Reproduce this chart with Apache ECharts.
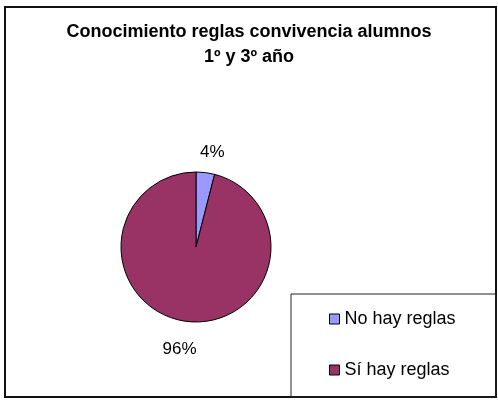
<!DOCTYPE html>
<html>
<head>
<meta charset="utf-8">
<script src="https://cdn.jsdelivr.net/npm/echarts@6/dist/echarts.min.js"></script>
<style>
  html, body { margin: 0; padding: 0; background: #fff; }
  #chart { width: 498px; height: 402px; }
</style>
</head>
<body>
<div id="chart"></div>
<script>
// datos
var categories = ['No hay reglas', 'Sí hay reglas']
var values = [4, 96]
var colors = ['#9999FF', '#993366']
var titleText = 'Conocimiento reglas convivencia alumnos\n1º y 3º año'

var font = 'Liberation Sans, Arial, sans-serif'

var myEchart = echarts.init(document.getElementById('chart'))
myEchart.setOption({
  animation: false,
  title: {
    text: titleText,
    left: 'center',
    top: 15,
    textStyle: {
      fontFamily: font,
      fontSize: 18,
      fontWeight: 'bold',
      color: '#000',
      lineHeight: 25
    }
  },
  graphic: [
    { // marco exterior
      type: 'rect',
      shape: { x: 5, y: 7, width: 491, height: 390 },
      style: { fill: 'none', stroke: '#111', lineWidth: 2 },
      z: -1
    },
    { // caja de leyenda
      type: 'rect',
      shape: { x: 291, y: 294, width: 205, height: 103 },
      style: { fill: 'none', stroke: '#222', lineWidth: 1 },
      z: -1
    }
  ],
  legend: {
    orient: 'vertical',
    left: 324,
    top: 305,
    itemWidth: 10,
    itemHeight: 10,
    itemGap: 33,
    icon: 'rect',
    data: categories,
    itemStyle: { borderColor: '#000', borderWidth: 1 },
    textStyle: { fontFamily: font, fontSize: 18, color: '#000' }
  },
  series: [
    {
      type: 'pie',
      center: [196, 247],
      radius: 75,
      startAngle: 90,
      clockwise: true,
      color: colors,
      itemStyle: { borderColor: '#000', borderWidth: 1 },
      label: {
        show: true,
        position: 'outside',
        formatter: '{d}%',
        fontFamily: font,
        fontSize: 17,
        color: '#000'
      },
      labelLine: { show: false, length: 24, length2: 0 },
      labelLayout: function (params) {
        var p0 = params.labelLinePoints[0]
        var p = params.labelLinePoints[1]
        var side = p[0] > p0[0] ? 1 : -1
        return { x: p[0] + side * 4, y: p[1] + 4, align: 'center', verticalAlign: 'middle' }
      },
      data: categories.map(function (name, i) {
        return { name: name, value: values[i] }
      })
    }
  ]
})
</script>
</body>
</html>
